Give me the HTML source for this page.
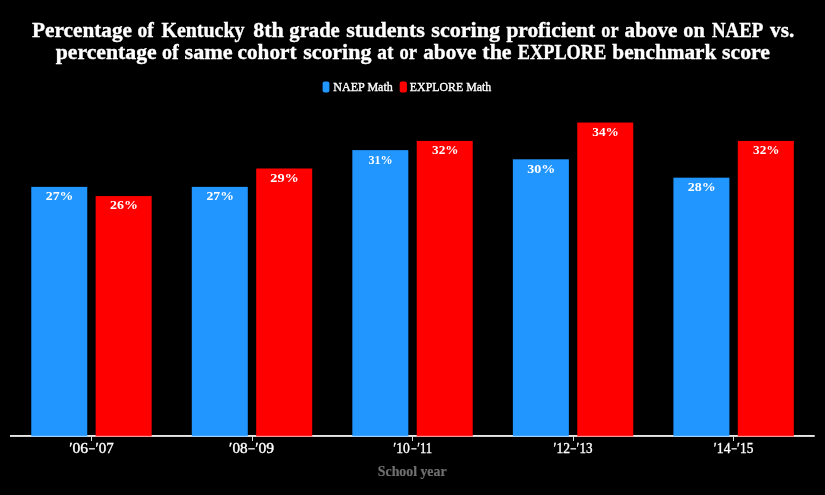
<!DOCTYPE html>
<html><head><meta charset="utf-8"><title>chart</title>
<style>
html,body{margin:0;padding:0;background:#000;}
body{width:825px;height:495px;overflow:hidden;font-family:"Liberation Serif",serif;}
svg{display:block;will-change:transform;}
text{font-family:"Liberation Serif",serif;white-space:pre;}
.t{font-weight:bold;font-size:20.6px;fill:#fff;stroke:#fff;stroke-width:0.36px;}
.bl{font-weight:bold;font-size:13.2px;fill:#fff;}
.tk{font-size:14.4px;fill:#fff;stroke:#fff;stroke-width:0.35px;}
.lg{font-size:12.2px;fill:#fff;stroke:#fff;stroke-width:0.35px;}
.ax{font-weight:bold;font-size:14px;fill:#707070;stroke:#707070;stroke-width:0.2px;}
</style></head><body>
<svg width="825" height="495" viewBox="0 0 825 495">
<rect width="825" height="495" fill="#000"/>
<rect x="10" y="435" width="804.7" height="1.9" fill="#e8e8e8"/>
<rect x="322.6" y="81.6" width="6.8" height="11" rx="2" fill="#2196FF"/>
<rect x="399.7" y="81.6" width="7.2" height="11" rx="2" fill="#FF0000"/>
<rect x="31.25" y="186.87" width="56" height="250.03" fill="#2196FF"/>
<rect x="95.65" y="196.06" width="56" height="240.84" fill="#FF0000"/>
<rect x="31.25" y="435.8" width="56" height="1.1" fill="#fff" fill-opacity="0.6"/>
<rect x="95.65" y="435.8" width="56" height="1.1" fill="#fff" fill-opacity="0.6"/>
<rect x="91" y="436.5" width="1" height="4.5" fill="#ddd"/>
<rect x="88.90" y="448.2" width="6.00" height="1.25" fill="#fff"/>
<rect x="191.79" y="186.87" width="56" height="250.03" fill="#2196FF"/>
<rect x="256.19" y="168.49" width="56" height="268.41" fill="#FF0000"/>
<rect x="191.79" y="435.8" width="56" height="1.1" fill="#fff" fill-opacity="0.6"/>
<rect x="256.19" y="435.8" width="56" height="1.1" fill="#fff" fill-opacity="0.6"/>
<rect x="252" y="436.5" width="1" height="4.5" fill="#ddd"/>
<rect x="248.20" y="448.2" width="6.60" height="1.25" fill="#fff"/>
<rect x="352.33" y="150.11" width="56" height="286.79" fill="#2196FF"/>
<rect x="416.73" y="140.92" width="56" height="295.98" fill="#FF0000"/>
<rect x="352.33" y="435.8" width="56" height="1.1" fill="#fff" fill-opacity="0.6"/>
<rect x="416.73" y="435.8" width="56" height="1.1" fill="#fff" fill-opacity="0.6"/>
<rect x="412" y="436.5" width="1" height="4.5" fill="#ddd"/>
<rect x="411.30" y="448.2" width="5.20" height="1.25" fill="#fff"/>
<rect x="512.87" y="159.30" width="56" height="277.60" fill="#2196FF"/>
<rect x="577.27" y="122.54" width="56" height="314.36" fill="#FF0000"/>
<rect x="512.87" y="435.8" width="56" height="1.1" fill="#fff" fill-opacity="0.6"/>
<rect x="577.27" y="435.8" width="56" height="1.1" fill="#fff" fill-opacity="0.6"/>
<rect x="573" y="436.5" width="1" height="4.5" fill="#ddd"/>
<rect x="570.50" y="448.2" width="5.60" height="1.25" fill="#fff"/>
<rect x="673.41" y="177.68" width="56" height="259.22" fill="#2196FF"/>
<rect x="737.81" y="140.92" width="56" height="295.98" fill="#FF0000"/>
<rect x="673.41" y="435.8" width="56" height="1.1" fill="#fff" fill-opacity="0.6"/>
<rect x="737.81" y="435.8" width="56" height="1.1" fill="#fff" fill-opacity="0.6"/>
<rect x="733" y="436.5" width="1" height="4.5" fill="#ddd"/>
<rect x="731.50" y="448.2" width="5.30" height="1.25" fill="#fff"/>
<text class="t" x="32.00" y="37.00" textLength="100.05" lengthAdjust="spacingAndGlyphs">Percentage</text>
<text class="t" x="137.38" y="37.00" textLength="16.25" lengthAdjust="spacingAndGlyphs">of</text>
<text class="t" x="161.39" y="37.00" textLength="83.11" lengthAdjust="spacingAndGlyphs">Kentucky</text>
<text class="t" x="253.26" y="37.00" textLength="30.49" lengthAdjust="spacingAndGlyphs">8th</text>
<text class="t" x="289.32" y="37.00" textLength="50.47" lengthAdjust="spacingAndGlyphs">grade</text>
<text class="t" x="346.23" y="37.00" textLength="78.67" lengthAdjust="spacingAndGlyphs">students</text>
<text class="t" x="431.30" y="37.00" textLength="68.85" lengthAdjust="spacingAndGlyphs">scoring</text>
<text class="t" x="506.40" y="37.00" textLength="88.77" lengthAdjust="spacingAndGlyphs">proficient</text>
<text class="t" x="601.31" y="37.00" textLength="17.17" lengthAdjust="spacingAndGlyphs">or</text>
<text class="t" x="624.62" y="37.00" textLength="52.84" lengthAdjust="spacingAndGlyphs">above</text>
<text class="t" x="683.34" y="37.00" textLength="21.47" lengthAdjust="spacingAndGlyphs">on</text>
<text class="t" x="711.93" y="37.00" textLength="51.35" lengthAdjust="spacingAndGlyphs">NAEP</text>
<text class="t" x="770.10" y="37.00" textLength="24.09" lengthAdjust="spacingAndGlyphs">vs.</text>
<text class="t" x="55.69" y="59.00" textLength="101.01" lengthAdjust="spacingAndGlyphs">percentage</text>
<text class="t" x="162.00" y="59.00" textLength="16.71" lengthAdjust="spacingAndGlyphs">of</text>
<text class="t" x="184.60" y="59.00" textLength="48.12" lengthAdjust="spacingAndGlyphs">same</text>
<text class="t" x="237.61" y="59.00" textLength="58.87" lengthAdjust="spacingAndGlyphs">cohort</text>
<text class="t" x="303.15" y="59.00" textLength="68.22" lengthAdjust="spacingAndGlyphs">scoring</text>
<text class="t" x="377.31" y="59.00" textLength="16.17" lengthAdjust="spacingAndGlyphs">at</text>
<text class="t" x="399.58" y="59.00" textLength="17.46" lengthAdjust="spacingAndGlyphs">or</text>
<text class="t" x="423.19" y="59.00" textLength="53.21" lengthAdjust="spacingAndGlyphs">above</text>
<text class="t" x="482.35" y="59.00" textLength="29.20" lengthAdjust="spacingAndGlyphs">the</text>
<text class="t" x="517.85" y="59.00" textLength="88.37" lengthAdjust="spacingAndGlyphs">EXPLORE</text>
<text class="t" x="612.29" y="59.00" textLength="104.13" lengthAdjust="spacingAndGlyphs">benchmark</text>
<text class="t" x="722.10" y="59.00" textLength="47.81" lengthAdjust="spacingAndGlyphs">score</text>
<text class="lg" x="333.32" y="91.30" textLength="59.54" lengthAdjust="spacingAndGlyphs">NAEP Math</text>
<text class="lg" x="409.86" y="91.30" textLength="81.28" lengthAdjust="spacingAndGlyphs">EXPLORE Math</text>
<text class="ax" x="377.83" y="476.40" textLength="68.71" lengthAdjust="spacingAndGlyphs">School year</text>
<text class="bl" x="45.79" y="200.27" textLength="27.67" lengthAdjust="spacingAndGlyphs">27%</text>
<text class="bl" x="110.08" y="209.46" textLength="27.94" lengthAdjust="spacingAndGlyphs">26%</text>
<text class="tk" x="69.16" y="453.20" textLength="19.02" lengthAdjust="spacingAndGlyphs">′06</text>
<text class="tk" x="95.42" y="453.20" textLength="18.24" lengthAdjust="spacingAndGlyphs">′07</text>
<text class="bl" x="206.42" y="200.27" textLength="27.46" lengthAdjust="spacingAndGlyphs">27%</text>
<text class="bl" x="270.28" y="181.89" textLength="28.60" lengthAdjust="spacingAndGlyphs">29%</text>
<text class="tk" x="229.13" y="453.20" textLength="18.51" lengthAdjust="spacingAndGlyphs">′08</text>
<text class="tk" x="255.17" y="453.20" textLength="19.01" lengthAdjust="spacingAndGlyphs">′09</text>
<text class="bl" x="368.44" y="163.51" textLength="24.30" lengthAdjust="spacingAndGlyphs">31%</text>
<text class="bl" x="432.03" y="154.32" textLength="26.51" lengthAdjust="spacingAndGlyphs">32%</text>
<text class="tk" x="393.26" y="453.20" textLength="16.67" lengthAdjust="spacingAndGlyphs">′10</text>
<text class="tk" x="417.24" y="453.20" textLength="14.96" lengthAdjust="spacingAndGlyphs">′11</text>
<text class="bl" x="527.20" y="172.70" textLength="28.12" lengthAdjust="spacingAndGlyphs">30%</text>
<text class="bl" x="592.29" y="135.94" textLength="26.65" lengthAdjust="spacingAndGlyphs">34%</text>
<text class="tk" x="553.45" y="453.20" textLength="16.57" lengthAdjust="spacingAndGlyphs">′12</text>
<text class="tk" x="576.61" y="453.20" textLength="15.96" lengthAdjust="spacingAndGlyphs">′13</text>
<text class="bl" x="687.87" y="191.08" textLength="27.91" lengthAdjust="spacingAndGlyphs">28%</text>
<text class="bl" x="753.03" y="154.32" textLength="26.49" lengthAdjust="spacingAndGlyphs">32%</text>
<text class="tk" x="713.85" y="453.20" textLength="16.71" lengthAdjust="spacingAndGlyphs">′14</text>
<text class="tk" x="737.07" y="453.20" textLength="16.28" lengthAdjust="spacingAndGlyphs">′15</text>
</svg></body></html>
